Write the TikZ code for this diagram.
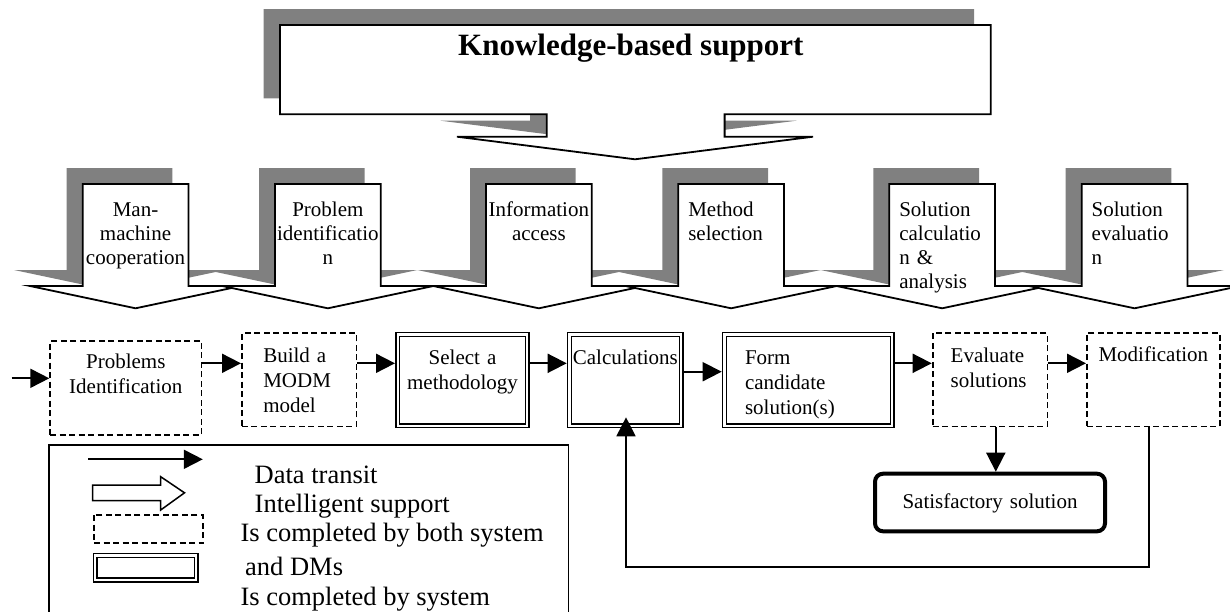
\documentclass[tikz,border=0pt]{standalone}
\usepackage{fontspec}
\setmainfont{Liberation Serif}
\usetikzlibrary{arrows.meta}

\newcommand{\procfont}{\fontsize{21}{25}\selectfont}
\newcommand{\calloutfont}{\fontsize{21}{24}\selectfont}
\newcommand{\legendfont}{\fontsize{26.5}{32}\selectfont}
\newcommand{\kbfont}{\bfseries\fontsize{31}{36}\selectfont}

\tikzset{
  flow/.style={-{Triangle[length=19pt,width=19pt]},line width=1.8pt},
  dashbox/.style={draw,line width=1.8pt,dash pattern=on 6pt off 3.5pt,outer sep=0.9pt,
    inner ysep=0pt,anchor=north west,font=\procfont},
  dblbox/.style={draw,line width=1.6pt,double,double distance=2.2pt,outer sep=2.7pt,
    inner ysep=0pt,anchor=north west,font=\procfont},
  callout/.style={anchor=base west,inner ysep=0pt,outer sep=0pt,font=\calloutfont},
  legendtext/.style={anchor=base west,inner sep=0pt,font=\legendfont}
}

\begin{document}
\begin{tikzpicture}[x=1pt,y=-1pt]
\clip (0,0) rectangle (1230,611);
\fill[white] (0,0) rectangle (1230,611);

% Knowledge-based support
\fill[gray,shift={(-16.5,-16)}] (280,25) -- (990.7,25) -- (990.7,114.3) -- (724.6,114.3) -- (724.6,136.7) -- (813,136.7) -- (635,159.3) -- (457,136.7) -- (546.7,136.7) -- (546.7,114.3) -- (280,114.3) -- cycle;
\draw[fill=white,line width=1.8pt] (280,25) -- (990.7,25) -- (990.7,114.3) -- (724.6,114.3) -- (724.6,136.7) -- (813,136.7) -- (635,159.3) -- (457,136.7) -- (546.7,136.7) -- (546.7,114.3) -- (280,114.3) -- cycle;
\node[anchor=base west,inner sep=0pt,font=\kbfont] (kbs) at (458,55.3) {Knowledge-based support};

% Intelligent support callouts
\foreach \xl in {82.7,275,486,678.3,889.3,1081.7}{
  \fill[gray,shift={(-16,-16)}] (\xl,184) -- ++(105.7,0) -- ++(0,102) -- ++(52.65,0) -- ++(-105.5,22.3) -- ++(-105.5,-22.3) -- ++(52.65,0) -- cycle;
  \draw[fill=white,line width=1.8pt] (\xl,184) -- ++(105.7,0) -- ++(0,102) -- ++(52.65,0) -- ++(-105.5,22.3) -- ++(-105.5,-22.3) -- ++(52.65,0) -- cycle;
}
\node[callout,align=center,inner xsep=0pt,text width=105.7pt] (coop) at (82.7,216) {Man-\\machine\\cooperation};
\node[callout,align=center,inner xsep=0pt,text width=105.7pt] (probid) at (275,216) {Problem\\identificatio\\n};
\node[callout,align=center,inner xsep=0pt,text width=105.7pt] (info) at (486,216) {Information\\access};
\node[callout,align=left,inner xsep=10pt,text width=85.7pt] (method) at (678.3,216) {Method\\selection};
\node[callout,align=left,inner xsep=10pt,text width=85.7pt] (solcalc) at (889.3,216) {Solution\\calculatio\\n \&\\analysis};
\node[callout,align=left,inner xsep=10pt,text width=85.7pt] (soleval) at (1081.7,216) {Solution\\evaluatio\\n};

% Process steps
\node[dashbox,align=center,inner xsep=0pt,text width=151.2pt,text height=27.8pt,text depth=66.1pt] (b1) at (49.3,340) {Problems\\Identification};
\node[dashbox,align=left,inner xsep=21.4pt,text width=71.7pt,text height=29.5pt,text depth=63.7pt] (b2) at (241,332.3) {Build a\\MODM\\model};
\node[dblbox,align=center,inner xsep=0pt,text width=129.6pt,text height=29.9pt,text depth=61.3pt] (b3) at (395,331.7) {Select a\\methodology};
\node[dblbox,align=center,inner xsep=0pt,text width=111.9pt,text height=29.9pt,text depth=61.3pt] (b4) at (566.7,331.7) {Calculations};
\node[dblbox,align=left,inner xsep=20.6pt,text width=126.7pt,text height=29.9pt,text depth=61.3pt] (b5) at (721.7,331.7) {Form\\candidate\\solution(s)};
\node[dashbox,align=left,inner xsep=18.1pt,text width=78.6pt,text height=29.5pt,text depth=63.7pt] (b6) at (931.7,332.3) {Evaluate\\solutions};
\node[dashbox,align=center,inner xsep=0pt,text width=132.9pt,text height=27.8pt,text depth=65.4pt] (b7) at (1086,332.3) {Modification};
\node[draw,line width=4pt,rounded corners=8pt,outer sep=2pt,inner sep=0pt,anchor=north west,align=center,text width=230pt,text height=34.8pt,text depth=22.8pt,font=\procfont] (sat) at (873,471.7) {Satisfactory solution};

% Data flow
\coordinate (start) at (11.7,378.3);
\coordinate (rowa) at (0,363.3);
\coordinate (rowb) at (0,371.7);
\coordinate (down) at (995.8,0);
\coordinate (retR) at (1149.3,567.3);
\coordinate (retL) at (626,567.3);
\draw[flow] (start) -- (start -| b1.west);
\draw[flow] (b1.east |- rowa) -- (b2.west |- rowa);
\draw[flow] (b2.east |- rowa) -- (b3.west |- rowa);
\draw[flow] (b3.east |- rowa) -- (b4.west |- rowa);
\draw[flow] (b4.east |- rowb) -- (b5.west |- rowb);
\draw[flow] (b5.east |- rowa) -- (b6.west |- rowa);
\draw[flow] (b6.east |- rowa) -- (b7.west |- rowa);
\draw[flow] (b6.south -| down) -- (sat.north -| down);
\draw[flow,shorten >=-11pt] (b7.south -| retR) -- (retR) -- (retL) -- (retL |- b4.south);

% Legend
\draw[line width=1.6pt] (49,445) rectangle (568.3,660);
\draw[flow] (88,459.3) -- (202.8,459.3);
\draw[line width=1.5pt] (92.6,485) -- (160.7,485) -- (160.7,476.7) -- (184.5,492.8) -- (160.7,510) -- (160.7,500.7) -- (92.6,500.7) -- cycle;
\draw[line width=1.8pt,dash pattern=on 6pt off 3.5pt] (93.8,515) rectangle (202.8,543.3);
\draw[line width=1.6pt,double,double distance=2.2pt] (95.3,555.4) rectangle (196.3,580);
\node[legendtext] (lgdata) at (254.5,483) {Data transit};
\node[legendtext] (lgsupport) at (254.5,512) {Intelligent support};
\node[legendtext] (lgboth) at (240.3,541) {Is completed by both system};
\node[legendtext] (lgdms) at (245,575) {and DMs};
\node[legendtext] (lgsys) at (240.3,605) {Is completed by system};

\end{tikzpicture}
\end{document}
